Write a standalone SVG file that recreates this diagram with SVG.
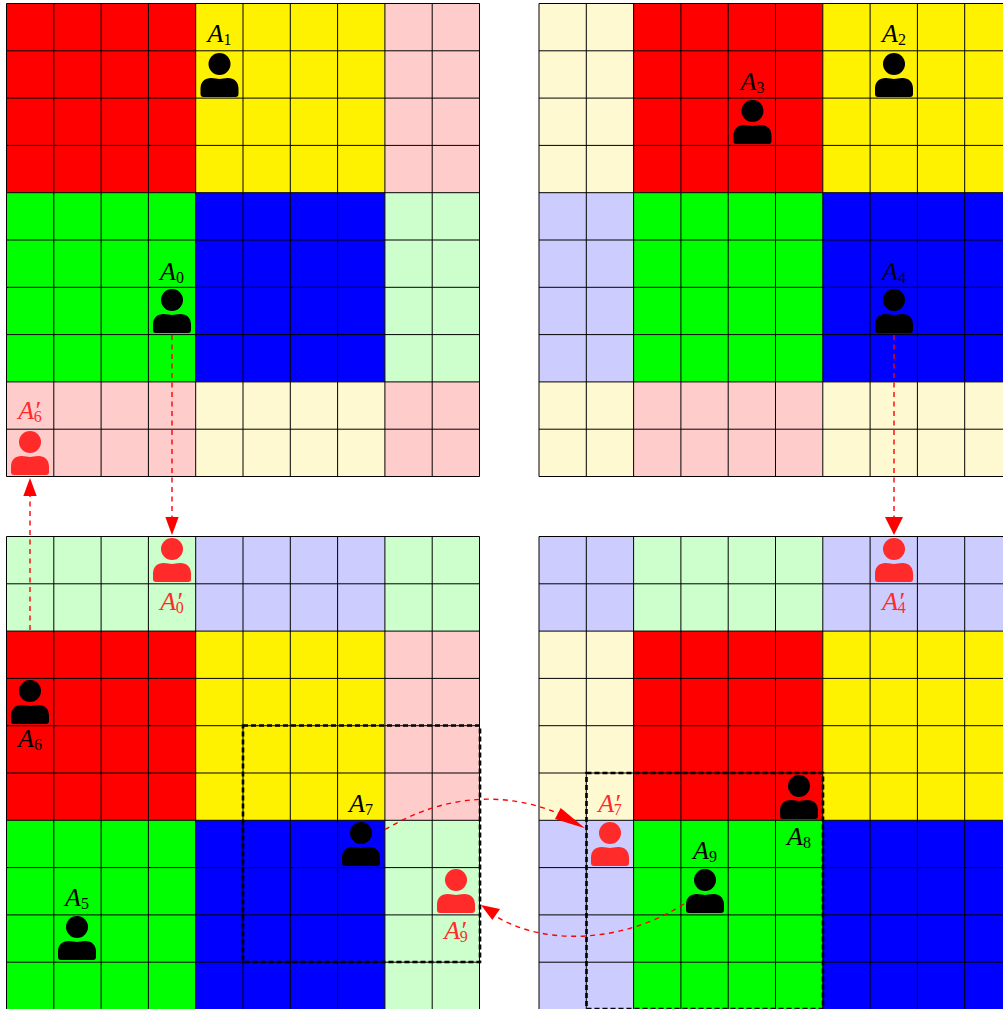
<svg xmlns="http://www.w3.org/2000/svg" width="1003" height="1009" viewBox="0 0 1003 1009">
<style>
.r{fill:#ff0000}.y{fill:#fff200}.g{fill:#00ff00}.b{fill:#0000ff}
.pr{fill:#ffcccc}.py{fill:#fff9d2}.pg{fill:#ccffcc}.pb{fill:#ccccff}
.grid{fill:none;stroke:#000;stroke-width:1}
.box{fill:none;stroke:#000;stroke-width:2.6;stroke-dasharray:5 3}
.dash{fill:none;stroke:#ff0000;stroke-width:1.4;stroke-dasharray:5 4.500}
.head{fill:#ff0000}
.lbl{font-family:"Liberation Serif",serif;font-size:26px;font-style:italic;text-anchor:middle}
.lbl .s{font-size:16px;font-style:normal}
.k{fill:#000}.w{fill:#ff2a2a}
</style>
<defs>
<path id="gridlines" class="grid" d="M0 0V473M47.3 0V473M94.6 0V473M141.9 0V473M189.2 0V473M236.5 0V473M283.8 0V473M331.1 0V473M378.4 0V473M425.7 0V473M473 0V473M0 0H473M0 47.3H473M0 94.6H473M0 141.9H473M0 189.2H473M0 236.5H473M0 283.8H473M0 331.1H473M0 378.4H473M0 425.7H473M0 473H473"/>
<g id="person">
<circle cx="0" cy="0" r="11"/>
<path d="M-16 33Q-19 33-19 30V24.500C-19 18-14.500 14-8.500 14C-4.500 14-2.500 15 0 15C2.500 15 4.500 14 8.500 14C14.500 14 19 18 19 24.500V30Q19 33 16 33Z"/>
</g>
</defs>
<rect width="1003" height="1009" fill="#fff"/>
<g id="panel-top-left">
<rect class="r" x="6.5" y="3.5" width="189.200" height="189.200"/>
<rect class="y" x="195.700" y="3.5" width="189.200" height="189.200"/>
<rect class="pr" x="384.900" y="3.5" width="94.600" height="189.200"/>
<rect class="g" x="6.5" y="192.700" width="189.200" height="189.200"/>
<rect class="b" x="195.700" y="192.700" width="189.200" height="189.200"/>
<rect class="pg" x="384.900" y="192.700" width="94.600" height="189.200"/>
<rect class="pr" x="6.5" y="381.900" width="189.200" height="94.600"/>
<rect class="py" x="195.700" y="381.900" width="189.200" height="94.600"/>
<rect class="pr" x="384.900" y="381.900" width="94.600" height="94.600"/>
<use href="#gridlines" x="6.5" y="3.5"/>
</g>
<g id="panel-top-right">
<rect class="py" x="539" y="3.5" width="94.600" height="189.200"/>
<rect class="r" x="633.600" y="3.5" width="189.200" height="189.200"/>
<rect class="y" x="822.800" y="3.5" width="189.200" height="189.200"/>
<rect class="pb" x="539" y="192.700" width="94.600" height="189.200"/>
<rect class="g" x="633.600" y="192.700" width="189.200" height="189.200"/>
<rect class="b" x="822.800" y="192.700" width="189.200" height="189.200"/>
<rect class="py" x="539" y="381.900" width="94.600" height="94.600"/>
<rect class="pr" x="633.600" y="381.900" width="189.200" height="94.600"/>
<rect class="py" x="822.800" y="381.900" width="189.200" height="94.600"/>
<use href="#gridlines" x="539" y="3.5"/>
</g>
<g id="panel-bottom-left">
<rect class="pg" x="6.5" y="536.500" width="189.200" height="94.600"/>
<rect class="pb" x="195.700" y="536.500" width="189.200" height="94.600"/>
<rect class="pg" x="384.900" y="536.500" width="94.600" height="94.600"/>
<rect class="r" x="6.5" y="631.100" width="189.200" height="189.200"/>
<rect class="y" x="195.700" y="631.100" width="189.200" height="189.200"/>
<rect class="pr" x="384.900" y="631.100" width="94.600" height="189.200"/>
<rect class="g" x="6.5" y="820.300" width="189.200" height="189.200"/>
<rect class="b" x="195.700" y="820.300" width="189.200" height="189.200"/>
<rect class="pg" x="384.900" y="820.300" width="94.600" height="189.200"/>
<use href="#gridlines" x="6.5" y="536.500"/>
</g>
<g id="panel-bottom-right">
<rect class="pb" x="539" y="536.500" width="94.600" height="94.600"/>
<rect class="pg" x="633.600" y="536.500" width="189.200" height="94.600"/>
<rect class="pb" x="822.800" y="536.500" width="189.200" height="94.600"/>
<rect class="py" x="539" y="631.100" width="94.600" height="189.200"/>
<rect class="r" x="633.600" y="631.100" width="189.200" height="189.200"/>
<rect class="y" x="822.800" y="631.100" width="189.200" height="189.200"/>
<rect class="pb" x="539" y="820.300" width="94.600" height="189.200"/>
<rect class="g" x="633.600" y="820.300" width="189.200" height="189.200"/>
<rect class="b" x="822.800" y="820.300" width="189.200" height="189.200"/>
<use href="#gridlines" x="539" y="536.500"/>
</g>
<g id="regions">
<rect class="box" x="243" y="725.500" width="237" height="236.500"/>
<rect class="box" x="586.500" y="773" width="236.500" height="236"/>
</g>
<g id="A0"><use href="#person" class="k" x="172" y="300"/><text class="lbl k" x="172" y="279.500">A<tspan class="s" dy="3">0</tspan></text></g>
<g id="A1"><use href="#person" class="k" x="219.500" y="64"/><text class="lbl k" x="219.500" y="42">A<tspan class="s" dy="3">1</tspan></text></g>
<g id="A2"><use href="#person" class="k" x="894" y="64"/><text class="lbl k" x="894" y="42">A<tspan class="s" dy="3">2</tspan></text></g>
<g id="A3"><use href="#person" class="k" x="752.500" y="111"/><text class="lbl k" x="752.500" y="89.500">A<tspan class="s" dy="3">3</tspan></text></g>
<g id="A4"><use href="#person" class="k" x="894" y="300"/><text class="lbl k" x="894" y="279.500">A<tspan class="s" dy="3">4</tspan></text></g>
<g id="A5"><use href="#person" class="k" x="77" y="927"/><text class="lbl k" x="77" y="905.500">A<tspan class="s" dy="3">5</tspan></text></g>
<g id="A6"><use href="#person" class="k" x="30" y="691"/><text class="lbl k" x="30" y="747">A<tspan class="s" dy="3">6</tspan></text></g>
<g id="A7"><use href="#person" class="k" x="361" y="833"/><text class="lbl k" x="361" y="811.500">A<tspan class="s" dy="3">7</tspan></text></g>
<g id="A8"><use href="#person" class="k" x="799" y="786"/><text class="lbl k" x="799" y="844.500">A<tspan class="s" dy="3">8</tspan></text></g>
<g id="A9"><use href="#person" class="k" x="705" y="880"/><text class="lbl k" x="705" y="858.500">A<tspan class="s" dy="3">9</tspan></text></g>
<g id="A0p"><use href="#person" class="w" x="172" y="549"/><text class="lbl w" x="172" y="609.500">A′<tspan class="s" dx="-6" dy="3">0</tspan></text></g>
<g id="A4p"><use href="#person" class="w" x="894" y="549"/><text class="lbl w" x="894" y="609.500">A′<tspan class="s" dx="-6" dy="3">4</tspan></text></g>
<g id="A6p"><use href="#person" class="w" x="30" y="442"/><text class="lbl w" x="30" y="418.500">A′<tspan class="s" dx="-6" dy="3">6</tspan></text></g>
<g id="A7p"><use href="#person" class="w" x="610" y="833"/><text class="lbl w" x="610" y="811.500">A′<tspan class="s" dx="-6" dy="3">7</tspan></text></g>
<g id="A9p"><use href="#person" class="w" x="456" y="880"/><text class="lbl w" x="456" y="938.500">A′<tspan class="s" dx="-6" dy="3">9</tspan></text></g>
<g id="connectors">
<path class="dash" d="M172 335V518"/>
<polygon class="head" points="172,535 165.300,517 178.700,517"/>
<path class="dash" d="M894 335V518"/>
<polygon class="head" points="894,535 885,517 903,517"/>
<path class="dash" d="M30 630V495"/>
<polygon class="head" points="30,478 23.300,496 36.700,496"/>
<path class="dash" d="M385 829.500C430 803 490 785 560 814"/>
<polygon class="head" points="585,828.300 560.700,808 555,819"/>
<path class="dash" d="M684 904C620 945 540 945 494 915"/>
<polygon class="head" points="481,905 500,909 492.300,920"/>
</g>
</svg>
